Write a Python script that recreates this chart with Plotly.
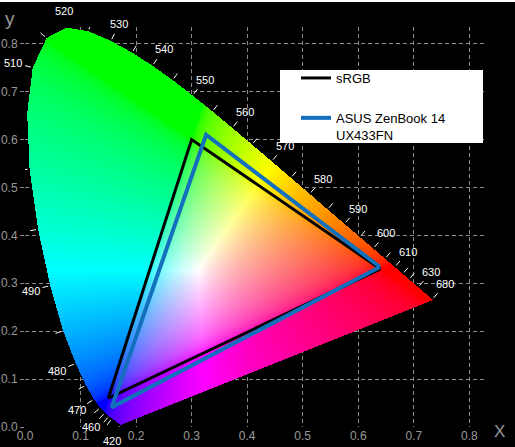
import numpy as np
import plotly.graph_objects as go
import zlib, struct, base64

# ---------------- data ----------------
wavelengths = list(range(380, 705, 5))
cie_x = [0.1741, 0.1740, 0.1738, 0.1736, 0.1733, 0.1730, 0.1726, 0.1721, 0.1714, 0.1703,
         0.1689, 0.1669, 0.1644, 0.1611, 0.1566, 0.1510, 0.1440, 0.1355, 0.1241, 0.1096,
         0.0913, 0.0687, 0.0454, 0.0235, 0.0082, 0.0039, 0.0139, 0.0389, 0.0743, 0.1142,
         0.1547, 0.1929, 0.2296, 0.2658, 0.3016, 0.3373, 0.3731, 0.4087, 0.4441, 0.4788,
         0.5125, 0.5448, 0.5752, 0.6029, 0.6270, 0.6482, 0.6658, 0.6801, 0.6915, 0.7006,
         0.7079, 0.7140, 0.7190, 0.7230, 0.7260, 0.7283, 0.7300, 0.7311, 0.7320, 0.7327,
         0.7334, 0.7340, 0.7344, 0.7346, 0.7347]
cie_y = [0.0050, 0.0050, 0.0049, 0.0049, 0.0048, 0.0048, 0.0048, 0.0048, 0.0051, 0.0058,
         0.0069, 0.0086, 0.0109, 0.0138, 0.0177, 0.0227, 0.0297, 0.0399, 0.0578, 0.0868,
         0.1327, 0.2007, 0.2950, 0.4127, 0.5384, 0.6548, 0.7502, 0.8120, 0.8338, 0.8262,
         0.8059, 0.7816, 0.7543, 0.7243, 0.6923, 0.6589, 0.6245, 0.5896, 0.5547, 0.5202,
         0.4866, 0.4544, 0.4242, 0.3965, 0.3725, 0.3514, 0.3340, 0.3197, 0.3083, 0.2993,
         0.2920, 0.2859, 0.2809, 0.2770, 0.2740, 0.2717, 0.2700, 0.2689, 0.2680, 0.2673,
         0.2666, 0.2660, 0.2656, 0.2654, 0.2653]

labeled_wl = [420, 460, 470, 480, 490, 510, 520, 530, 540, 550, 560, 570, 580,
              590, 600, 610, 630, 680]
tick_only_wl = [450, 455, 465, 475, 485, 495, 500, 505, 515, 525, 535, 545, 555,
                565, 575, 585, 595, 605, 615, 620]

srgb_name = "sRGB"
srgb_x = [0.64, 0.30, 0.15, 0.64]
srgb_y = [0.33, 0.60, 0.06, 0.33]

asus_name = "ASUS ZenBook 14<br>UX433FN"
asus_x = [0.639, 0.326, 0.156, 0.639]
asus_y = [0.334, 0.610, 0.041, 0.334]

axis_ticks = [0.0, 0.1, 0.2, 0.3, 0.4, 0.5, 0.6, 0.7, 0.8]
axis_ticktext = ["0.0", "0.1", "0.2", "0.3", "0.4", "0.5", "0.6", "0.7", "0.8"]

# ---------------- layout geometry ----------------
W_FIG, H_FIG = 515, 447
M_L, M_R, M_T, M_B = 25, 29, 27, 20
X_MAX, Y_MAX = 0.83, 0.835
PW = W_FIG - M_L - M_R
PH = H_FIG - M_T - M_B
SX = PW / X_MAX   # px per unit
SY = PH / Y_MAX

def paper_x(px):
    return (px - M_L) / PW

def paper_y(py):
    return (H_FIG - M_B - py) / PH

FONT = "Liberation Sans, Arial, sans-serif"
GRAY = "#9a9a9a"

# ---------------- chromaticity fill image ----------------
vx = np.array(cie_x)
vy = np.array(cie_y)
NW, NH = PW, PH
dx = X_MAX / NW
dy = Y_MAX / NH
gx = (np.arange(NW) + 0.5) * dx
gy = (np.arange(NH) + 0.5) * dy
PX, PY = np.meshgrid(gx, gy)

def inside(px, py, polx, poly):
    res = np.zeros(px.shape, bool)
    n = len(polx)
    j = n - 1
    for i in range(n):
        xi, yi, xj, yj = polx[i], poly[i], polx[j], poly[j]
        if yi != yj:
            cond = ((yi > py) != (yj > py)) & (px < (xj - xi) * (py - yi) / (yj - yi) + xi)
            res ^= cond
        j = i
    return res

mask = inside(PX, PY, vx, vy)
Yv = np.ones_like(PX)
X = PX / PY
Z = (1 - PX - PY) / PY
M = np.array([[3.2406, -1.5372, -0.4986],
              [-0.9689, 1.8758, 0.0415],
              [0.0557, -0.2040, 1.0570]])
rgb = np.stack([M[k, 0] * X + M[k, 1] * Yv + M[k, 2] * Z for k in range(3)], axis=-1)
rgb = np.clip(rgb, 0, None)
mx = rgb.max(axis=-1, keepdims=True)
mx[mx == 0] = 1
rgb = rgb / mx
rgb = np.where(rgb <= 0.0031308, 12.92 * rgb, 1.055 * np.power(rgb, 1 / 2.4) - 0.055)
img = np.zeros((NH, NW, 4), np.uint8)
img[..., :3] = np.clip(rgb * 255 + 0.5, 0, 255).astype(np.uint8)
img[..., 3] = np.where(mask, 255, 0).astype(np.uint8)

def to_png(a):
    h, w, _ = a.shape
    raw = b"".join(b"\x00" + a[i].tobytes() for i in range(h))
    def chunk(t, d):
        c = struct.pack(">I", len(d)) + t + d
        return c + struct.pack(">I", zlib.crc32(t + d) & 0xffffffff)
    return (b"\x89PNG\r\n\x1a\n" + chunk(b"IHDR", struct.pack(">IIBBBBB", w, h, 8, 6, 0, 0, 0))
            + chunk(b"IDAT", zlib.compress(raw, 9)) + chunk(b"IEND", b""))

uri = "data:image/png;base64," + base64.b64encode(to_png(img)).decode()

fig = go.Figure()
fig.add_trace(go.Image(source=uri, x0=dx / 2, y0=dy / 2, dx=dx, dy=dy, hoverinfo="skip"))

# ---------------- wavelength ticks and labels ----------------
def normal(w):
    i = wavelengths.index(w)
    a, b = max(i - 1, 0), min(i + 1, len(wavelengths) - 1)
    tx = (cie_x[b] - cie_x[a]) * SX
    ty = (cie_y[b] - cie_y[a]) * SY
    L = (tx ** 2 + ty ** 2) ** 0.5
    return -ty / L, tx / L

tk_x, tk_y = [], []
annotations = []
for w in sorted(labeled_wl + tick_only_wl):
    i = wavelengths.index(w)
    nx, ny = normal(w)
    p0x, p0y = cie_x[i], cie_y[i]
    tk_x += [p0x + nx * 2 / SX, p0x + nx * 8 / SX, None]
    tk_y += [p0y + ny * 2 / SY, p0y + ny * 8 / SY, None]
    if w in labeled_wl:
        L = 9 + 10 * abs(nx) + 6 * abs(ny)
        annotations.append(dict(
            x=p0x, y=p0y, xref="x", yref="y", text=str(w), showarrow=True,
            ax=nx * L, ay=-ny * L, axref="pixel", ayref="pixel",
            arrowcolor="rgba(0,0,0,0)", arrowwidth=0.1, arrowhead=0,
            font=dict(color="white", size=11, family=FONT)))

fig.add_trace(go.Scatter(x=tk_x, y=tk_y, mode="lines", line=dict(color="white", width=1),
                         hoverinfo="skip", showlegend=False, cliponaxis=False))

# ---------------- gamut triangles ----------------
fig.add_trace(go.Scatter(x=srgb_x, y=srgb_y, mode="lines", name=srgb_name,
                         line=dict(color="black", width=3), legendgroup="a"))
fig.add_trace(go.Scatter(x=asus_x, y=asus_y, mode="lines", name=asus_name,
                         line=dict(color="#1270bd", width=4), legendgroup="b"))

axis_common = dict(showgrid=True, gridcolor="#8a8a8a", griddash="4px,3px", gridwidth=1,
                   zeroline=False, showline=False,
                   tickcolor="#8a8a8a", tickvals=axis_ticks, ticktext=axis_ticktext,
                   tickfont=dict(color=GRAY, size=12, family=FONT), autorange=False,
                   automargin=False)

annotations += [
    dict(text="y", xref="paper", yref="paper", x=paper_x(10), y=paper_y(19),
         xanchor="center", yanchor="middle",
         showarrow=False, font=dict(color=GRAY, size=19, family=FONT)),
    dict(text="X", xref="paper", yref="paper", x=paper_x(500), y=paper_y(431),
         xanchor="center", yanchor="middle",
         showarrow=False, font=dict(color=GRAY, size=17, family=FONT)),
]

fig.update_layout(
    width=W_FIG, height=H_FIG,
    margin=dict(l=M_L, r=M_R, t=M_T, b=M_B, autoexpand=False),
    paper_bgcolor="black", plot_bgcolor="black",
    xaxis=dict(range=[0, X_MAX], ticks="", **axis_common),
    yaxis=dict(range=[0, Y_MAX], scaleanchor=False, ticks="outside", ticklen=4, **axis_common),
    showlegend=True,
    legend=dict(x=paper_x(296), y=paper_y(63), xanchor="left", yanchor="top",
                bgcolor="rgba(0,0,0,0)", font=dict(color="black", size=13, family=FONT),
                tracegroupgap=20, valign="top", itemwidth=30),
    annotations=annotations,
    shapes=[
        dict(type="rect", xref="paper", yref="paper", x0=-0.2, x1=1.2,
             y0=paper_y(2), y1=paper_y(-5), fillcolor="white", line=dict(width=0)),
        dict(type="rect", xref="paper", yref="paper", layer="above",
             x0=paper_x(280), x1=paper_x(483), y0=paper_y(143), y1=paper_y(70),
             fillcolor="white", line=dict(width=0)),
    ],
)

fig.write_html("out.html", config={"displayModeBar": False},
               post_script="document.body.style.margin='0';document.body.style.background='black';")
